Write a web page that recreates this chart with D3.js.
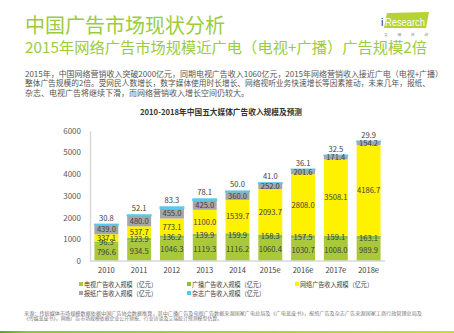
<!DOCTYPE html>
<html><head><meta charset="utf-8">
<script src="https://cdn.jsdelivr.net/npm/d3@7"></script>
<style>
body{margin:0;background:#fff;}
svg{display:block;font-family:"Noto Sans CJK SC","Noto Sans",sans-serif;}
</style></head><body>
<script>
const years = ["2010","2011","2012","2013","2014","2015e","2016e","2017e","2018e"];
const tv = [796.6,934.5,1046.3,1119.3,1116.2,1060.4,1030.7,1008.0,989.9];
const radio = [96.3,123.9,136.2,139.9,159.9,158.3,157.5,159.1,163.1];
const internet = [337.1,537.7,773.1,1100.0,1539.7,2093.7,2808.0,3508.1,4186.7];
const newspaper = [439.0,480.0,455.0,425.0,360.0,252.0,201.6,171.4,154.2];
const magazine = [30.8,52.1,83.3,78.1,50.0,41.0,36.1,32.5,29.9];
const yTicks = [0,1000,2000,3000,4000,5000,6000];
const seriesNames = ["电视广告收入规模（亿元）","广播广告收入规模（亿元）","网络广告收入规模（亿元）","报纸广告收入规模（亿元）","杂志广告收入规模（亿元）"];
const colors = ["#a9c93b","#8dbf40","#fff200","#a6a6a6","#5ac8ea"];
const title = "中国广告市场现状分析";
const subtitle = "2015年网络广告市场规模近广电（电视+广播）广告规模2倍";
const para = ["2015年，中国网络营销收入突破2000亿元，同期电视广告收入1060亿元，2015年网络营销收入接近广电（电视+广播）",
"整体广告规模的2倍。受网民人数增长，数字媒体使用时长增长、网络视听业务快速增长等因素推动，未来几年，报纸、",
"杂志、电视广告将继续下滑，而网络营销收入增长空间仍较大。"];
const chartTitle = "2010-2018年中国五大媒体广告收入规模及预测";
const source = ["来源：传统媒体市场规模数据依据中国广告协会数据推算，其中广播广告及电视广告数据来源国家广电总局及《广电蓝皮书》，报纸广告及杂志广告来源国家工商行政管理总局及",
"《传媒蓝皮书》，网络广告市场规模依据企业公开财报、行业访谈及艾瑞统计预测模型估算。"];

const W=454,H=333;
const svg=d3.select("body").append("svg").attr("width",W).attr("height",H);

const defs=svg.append("defs");
const g1=defs.append("linearGradient").attr("id","strip");
g1.append("stop").attr("offset","0").attr("stop-color","#5aa829");
g1.append("stop").attr("offset","0.06").attr("stop-color","#8cc63e");
g1.append("stop").attr("offset","1").attr("stop-color","#c9e01f");
svg.append("rect").attr("x",0).attr("y",331).attr("width",W).attr("height",2).attr("fill","url(#strip)");

svg.append("text").attr("x",25).attr("y",33).attr("font-size",20).attr("fill","#9ccb3d").text(title);
svg.append("text").attr("x",25).attr("y",53).attr("font-size",15).attr("fill","#9ccb3d")
  .attr("textLength",402).attr("lengthAdjust","spacingAndGlyphs").text(subtitle);

const logo=svg.append("g");
logo.append("path").attr("d","M387,13 L429,12 L426,28 L384,28 Z").attr("fill","#b5d334");
logo.append("text").attr("x",381).attr("y",26).attr("font-size",11).attr("font-family","Liberation Sans,Arial").attr("fill","#333").text("i");
logo.append("text").attr("x",385).attr("y",26).attr("font-size",10.5).attr("font-family","Liberation Sans,Arial").attr("fill","#fff")
  .attr("textLength",40).attr("lengthAdjust","spacingAndGlyphs").text("Research");
logo.append("text").attr("x",384).attr("y",36).attr("font-size",3.8).attr("fill","#888")
  .attr("textLength",44).attr("lengthAdjust","spacing").text("艾瑞咨询");

const paraW=[418,405,null];
para.forEach((t,i)=>{
  const tx=svg.append("text").attr("x",25).attr("y",77+i*9.3).attr("font-size",8).attr("fill","#555").text(t);
  if(paraW[i]) tx.attr("textLength",paraW[i]).attr("lengthAdjust","spacingAndGlyphs");
});

svg.append("text").attr("x",221).attr("y",115).attr("text-anchor","middle").attr("font-size",8).attr("font-weight","bold").attr("fill","#333")
  .attr("textLength",162).attr("lengthAdjust","spacingAndGlyphs").text(chartTitle);

const x=d3.scaleBand().domain(years).range([90,385]).paddingInner(0.27).paddingOuter(0.135);
const y=d3.scaleLinear().domain([0,6000]).range([261,130.7]);

const data=years.map((yr,i)=>({year:yr,tv:tv[i],radio:radio[i],internet:internet[i],newspaper:newspaper[i],magazine:magazine[i]}));
const keys=["tv","radio","internet","newspaper","magazine"];
const stack=d3.stack().keys(keys)(data);

const yAxis=svg.append("g").attr("transform","translate(90,0)").call(d3.axisLeft(y).tickValues(yTicks).tickSize(0).tickPadding(9).tickFormat(d3.format("d")));
yAxis.select(".domain").attr("stroke","#d9d9d9").attr("stroke-width",1.5);
yAxis.selectAll("text").attr("font-size",8).attr("fill","#595959").attr("font-family","Noto Sans CJK SC");

stack.forEach((s,k)=>{
  svg.append("g").selectAll("rect").data(s).join("rect")
    .attr("x",d=>x(d.data.year)).attr("width",x.bandwidth())
    .attr("y",d=>y(d[1])).attr("height",d=>y(d[0])-y(d[1]))
    .attr("fill",colors[k])
    .attr("stroke",k===4?colors[k]:"none").attr("stroke-width",k===4?1:0);
});

stack.forEach((s,k)=>{
  svg.append("g").selectAll("text").data(s).join("text")
    .attr("x",d=>x(d.data.year)+x.bandwidth()/2)
    .attr("y",d=> k===4 ? y(d[1])-3.5 : (y(d[0])+y(d[1]))/2+2.8)
    .attr("text-anchor","middle").attr("font-size",7.6).attr("fill","#404040")
    .text(d=>d3.format(".1f")(d[1]-d[0]));
});

const xAxis=svg.append("g").attr("transform","translate(0,261)").call(d3.axisBottom(x).tickSize(0).tickPadding(7));
xAxis.select(".domain").attr("stroke","#d9d9d9").attr("stroke-width",1.5).attr("d","M90,0H385");
xAxis.selectAll("text").attr("font-size",7.5).attr("fill","#404040").attr("font-family","Noto Sans CJK SC");

const legPos=[[79,286.5],[187,286.5],[295,286.5],[79,295.5],[187,295.5]];
seriesNames.forEach((n,i)=>{
  const g=svg.append("g").attr("transform",`translate(${legPos[i][0]},${legPos[i][1]})`);
  g.append("rect").attr("x",0).attr("y",-4.5).attr("width",4).attr("height",4).attr("fill",colors[i]);
  g.append("text").attr("x",5).attr("y",0).attr("font-size",6.6).attr("fill","#404040")
    .attr("textLength",73).attr("lengthAdjust","spacingAndGlyphs").text(n);
});

source.forEach((t,i)=>{
  const tx=svg.append("text").attr("x",24).attr("y",314.5+i*5.6).attr("font-size",4.9).attr("fill","#777").text(t);
  if(i===0) tx.attr("textLength",398).attr("lengthAdjust","spacingAndGlyphs");
});
</script>
</body></html>
